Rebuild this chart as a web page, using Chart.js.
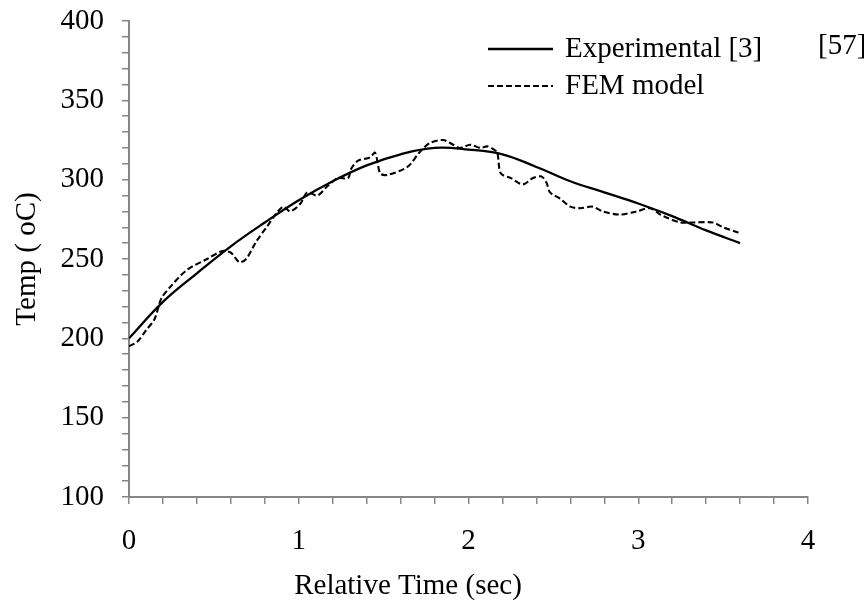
<!DOCTYPE html>
<html>
<head>
<meta charset="utf-8">
<script src="https://cdn.jsdelivr.net/npm/chart.js@4.4.1/dist/chart.umd.min.js"></script>
<style>
  html, body { margin: 0; padding: 0; background: #fff; }
  #wrap { width: 864px; height: 612px; }
</style>
</head>
<body>
<div id="wrap"><canvas id="c" width="864" height="612"></canvas></div>
<script>
// Experimental [3]
const expX = [0, 0.2, 0.4, 0.6, 0.8, 1.0, 1.2, 1.4, 1.6, 1.8, 2.0, 2.2, 2.4, 2.6, 2.8, 3.0, 3.2, 3.4, 3.6];
const expY = [200, 223, 241, 258, 273, 287, 299, 309, 316, 320, 319, 316, 308, 299, 292, 285, 277, 268, 260];

// FEM model
const femX = [0, 0.05, 0.1, 0.15, 0.19, 0.24, 0.34, 0.46, 0.55, 0.6, 0.65, 0.69, 0.75, 0.81, 0.87, 0.91, 0.95,
  1.01, 1.05, 1.11, 1.17, 1.23, 1.29, 1.31, 1.35, 1.42, 1.45, 1.48, 1.52, 1.64, 1.71, 1.77, 1.85, 1.91, 1.95,
  2.01, 2.07, 2.11, 2.15, 2.17, 2.19, 2.25, 2.32, 2.38, 2.43, 2.46, 2.48, 2.54, 2.6, 2.66, 2.73, 2.79, 2.89,
  2.99, 3.07, 3.13, 3.17, 3.25, 3.32, 3.44, 3.5, 3.58, 3.6];
const femY = [195, 198, 205, 212, 225, 232, 243, 250, 255, 254, 248, 250, 261, 270, 279, 283, 280,
  285, 292, 290, 296, 301, 301, 307, 312, 314, 317, 304, 303, 308, 317, 323, 325, 322, 320,
  322, 320, 321, 319, 317, 304, 301, 297, 301, 302, 298, 292, 288, 283, 282, 283, 280, 278,
  280, 282, 278, 276, 273, 273, 273, 270, 267, 266];

const xTicks = [0, 1, 2, 3, 4];
const yTicks = [100, 150, 200, 250, 300, 350, 400];

const pts = (xs, ys) => xs.map((x, i) => ({ x, y: ys[i] }));
const FONT = "'Liberation Serif', 'Times New Roman', serif";
const FS = 29;
const AXIS = "#878787";

// legend, note and x title drawn by hand (the title sits left of centre in the original)
const legendPlugin = {
  id: "legendInPlot",
  afterDraw(chart) {
    const ctx = chart.ctx;
    ctx.save();
    ctx.font = FS + "px " + FONT;
    ctx.fillStyle = "#000";
    ctx.textBaseline = "middle";
    const rows = [49, 86];
    chart.data.datasets.forEach((ds, i) => {
      const y = rows[i];
      ctx.beginPath();
      ctx.strokeStyle = ds.borderColor;
      ctx.lineWidth = ds.borderWidth;
      ctx.setLineDash(ds.borderDash || []);
      ctx.moveTo(488, y);
      ctx.lineTo(553, y);
      ctx.stroke();
      ctx.setLineDash([]);
      ctx.fillText(ds.label, 565, y);
    });
    ctx.fillText("[57]", 818, 46);
    ctx.textAlign = "center";
    ctx.fillText("Relative Time (sec)", 408, 586);
    ctx.restore();
  }
};

new Chart(document.getElementById("c"), {
  type: "line",
  data: {
    datasets: [
      {
        label: "Experimental [3]",
        data: pts(expX, expY),
        borderColor: "#000",
        borderWidth: 2.3,
        pointRadius: 0,
        tension: 0.4
      },
      {
        label: "FEM model",
        data: pts(femX, femY),
        borderColor: "#000",
        borderWidth: 2.1,
        borderDash: [6, 3],
        pointRadius: 0,
        tension: 0.3
      }
    ]
  },
  options: {
    responsive: false,
    animation: false,
    layout: { padding: { top: 21, right: 56, left: 0, bottom: 0 } },
    plugins: { legend: { display: false }, tooltip: { enabled: false } },
    scales: {
      x: {
        type: "linear",
        min: 0, max: 4,
        afterFit: s => { s.height = 115; s.paddingLeft = 0; s.paddingRight = 0; },
        afterBuildTicks: s => {
          s.ticks = [];
          for (let v = 0; v <= 4.0001; v += 0.2) s.ticks.push({ value: Math.round(v * 10) / 10 });
        },
        ticks: {
          autoSkip: false,
          maxRotation: 0,
          padding: 20,
          color: "#000",
          font: { family: FONT, size: FS },
          callback: v => xTicks.includes(v) ? String(v) : ""
        },
        grid: { drawOnChartArea: false, color: AXIS, tickLength: 7, lineWidth: 1.5 },
        border: { color: AXIS, width: 2 }
      },
      y: {
        min: 100, max: 400,
        afterFit: s => { s.width = 129; s.paddingTop = 0; s.paddingBottom = 0; },
        ticks: {
          stepSize: 10,
          autoSkip: false,
          padding: 18,
          color: "#000",
          font: { family: FONT, size: FS },
          callback: v => yTicks.includes(v) ? String(v) : ""
        },
        grid: { drawOnChartArea: false, color: AXIS, tickLength: 7, lineWidth: 1.5 },
        border: { color: AXIS, width: 2 },
        title: {
          display: true,
          text: "Temp ( oC)",
          color: "#000",
          font: { family: FONT, size: FS },
          padding: { top: 10, bottom: 0 }
        }
      }
    }
  },
  plugins: [legendPlugin]
});
</script>
</body>
</html>
